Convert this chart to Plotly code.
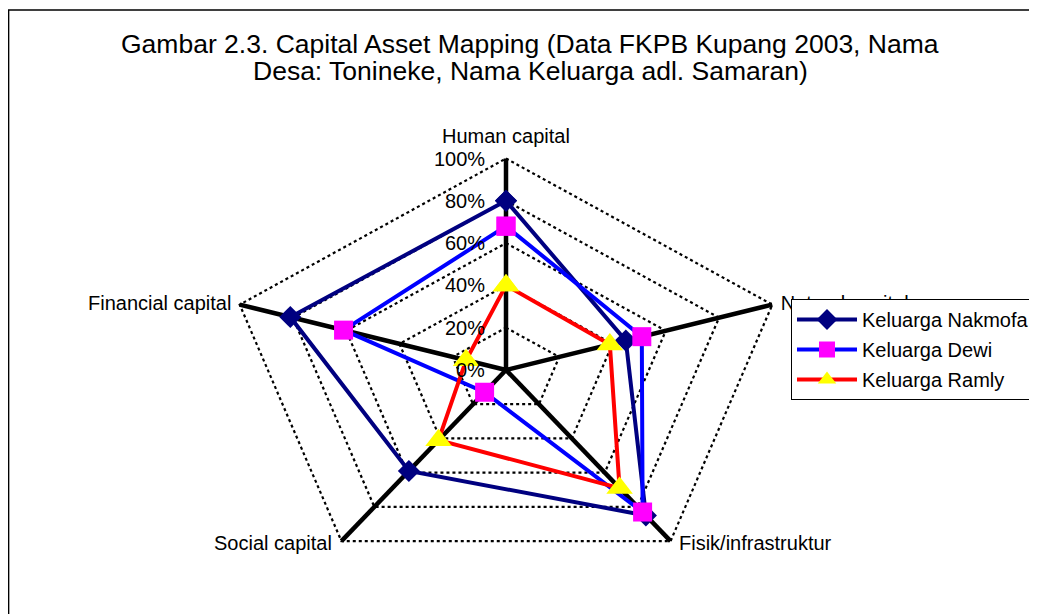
import numpy as np
import plotly.graph_objects as go

# ---------------- data ----------------
categories = ["Human capital", "Natural capital", "Fisik/infrastruktur",
              "Social capital", "Financial capital"]
nakmofa = [0.80, 0.45, 0.85, 0.59, 0.81]
dewi = [0.68, 0.51, 0.83, 0.13, 0.61]
ramly = [0.40, 0.39, 0.69, 0.41, 0.15]
series_names = ["Keluarga Nakmofa", "Keluarga Dewi", "Keluarga Ramly"]
tick_values = [0.0, 0.2, 0.4, 0.6, 0.8, 1.0]
tick_labels = ["0%", "20%", "40%", "60%", "80%", "100%"]
title_lines = ["Gambar 2.3. Capital Asset Mapping (Data FKPB Kupang 2003, Nama",
               "Desa: Tonineke, Nama Keluarga adl. Samaran)"]

# ---------------- geometry helpers ----------------
OFF = 8                     # default page body margin
W, H = 1037 - OFF, 614 - OFF
CX, CY = 506 - OFF, 370 - OFF   # pixel centre of the radar (figure coords)
SX, SY = 280, 211.5             # pixels per unit radius (horizontal / vertical)
n = len(categories)
ang = np.deg2rad(90 - 72 * np.arange(n))


def project(vals, close=True):
    v = np.asarray(vals, dtype=float)
    x = v * np.cos(ang)
    y = v * np.sin(ang)
    if close:
        x = np.append(x, x[0])
        y = np.append(y, y[0])
    return x, y


FONT = "Arial, Liberation Sans, sans-serif"
fig = go.Figure()

# grid pentagons
for tv in tick_values[1:]:
    gx, gy = project([tv] * n)
    fig.add_trace(go.Scatter(x=gx, y=gy, mode="lines", showlegend=False,
                             hoverinfo="skip",
                             line=dict(color="black", width=2.2, dash="dot")))

# spokes
for k in range(n):
    fig.add_trace(go.Scatter(x=[0, np.cos(ang[k])], y=[0, np.sin(ang[k])],
                             mode="lines", showlegend=False, hoverinfo="skip",
                             line=dict(color="black", width=4.5)))

# "Natural capital" label as a text trace so the legend box covers it
fig.add_trace(go.Scatter(x=[np.cos(ang[1])], y=[np.sin(ang[1])], mode="markers+text",
                         text=[categories[1]], textposition="middle right",
                         marker=dict(size=12, opacity=0),
                         showlegend=False, hoverinfo="skip",
                         textfont=dict(family=FONT, size=20, color="black")))

styles = [
    dict(line=dict(color="#000080", width=4),
         marker=dict(symbol="diamond", size=17, color="#000080")),
    dict(line=dict(color="#0000FF", width=4),
         marker=dict(symbol="square", size=19, color="#FF00FF")),
    dict(line=dict(color="#FF0000", width=4),
         marker=dict(symbol="triangle-up", size=23, color="#FFFF00")),
]
for name, vals, st, g in zip(series_names, [nakmofa, dewi, ramly], styles, "abc"):
    sx, sy = project(vals)
    fig.add_trace(go.Scatter(x=sx, y=sy, mode="lines+markers", name=name,
                             legendgroup=g, line=st["line"], marker=st["marker"]))

ann = []
# radial tick labels along the Human capital axis
for tv, tl in zip(tick_values, tick_labels):
    ann.append(dict(x=0, y=tv, xref="x", yref="y", text=tl, showarrow=False,
                    xanchor="right", yanchor="middle", xshift=-19,
                    font=dict(family=FONT, size=20, color="black")))

# other category labels
lab_pos = {
    0: dict(xanchor="center", yanchor="middle", xshift=0, yshift=23),
    2: dict(xanchor="left", yanchor="middle", xshift=6, yshift=-2),
    3: dict(xanchor="right", yanchor="middle", xshift=-7, yshift=-2),
    4: dict(xanchor="right", yanchor="middle", xshift=-7, yshift=2),
}
for k, lp in lab_pos.items():
    ann.append(dict(x=np.cos(ang[k]), y=np.sin(ang[k]), xref="x", yref="y",
                    text=categories[k], showarrow=False,
                    font=dict(family=FONT, size=20, color="black"), **lp))

# title (two lines)
for t, py in zip(title_lines, [44 - OFF, 71 - OFF]):
    ann.append(dict(x=(530 - OFF) / W, y=1 - py / H, xref="paper", yref="paper",
                    text=t, showarrow=False, xanchor="center", yanchor="middle",
                    font=dict(family=FONT, size=26.5, color="black")))

fig.update_layout(
    width=W, height=H,
    margin=dict(l=0, r=0, t=0, b=0),
    paper_bgcolor="white", plot_bgcolor="white",
    xaxis=dict(visible=False, range=[-CX / SX, (W - CX) / SX], fixedrange=True),
    yaxis=dict(visible=False, range=[-(H - CY) / SY, CY / SY], fixedrange=True),
    annotations=ann,
    showlegend=True,
    legend=dict(x=(791 - OFF) / W, y=1 - (299 - OFF) / H, xanchor="left", yanchor="top",
                bgcolor="white", bordercolor="black", borderwidth=1,
                font=dict(family=FONT, size=20, color="black"),
                tracegroupgap=1, traceorder="grouped", itemwidth=60),
    shapes=[dict(type="rect", xref="paper", yref="paper",
                 x0=0.6 / W, x1=(1033 - OFF) / W, y0=-0.1, y1=1 - (10 - OFF) / H,
                 line=dict(color="black", width=1.5))],
)

fig.write_html("out.html")
